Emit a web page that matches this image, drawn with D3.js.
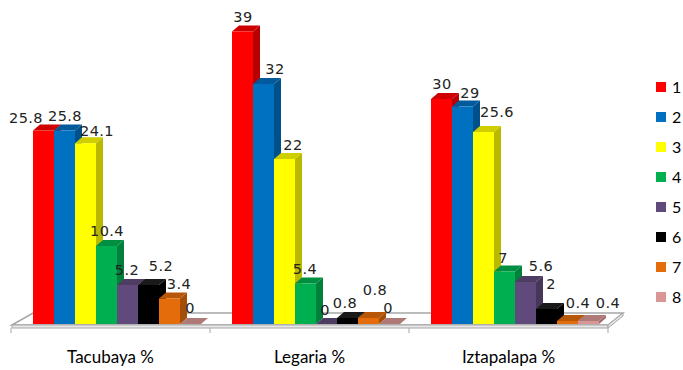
<!DOCTYPE html>
<html>
<head>
<meta charset="utf-8">
<script src="https://cdn.jsdelivr.net/npm/d3@7"></script>
<style>
  html, body { margin: 0; padding: 0; background: #fff; }
  svg { display: block; }
</style>
</head>
<body>
<svg id="chart" width="683" height="370"></svg>
<script>
// Share of responses per option (1–8) at three sites
const categories = ["Tacubaya %", "Legaria %", "Iztapalapa %"];
const seriesNames = ["1", "2", "3", "4", "5", "6", "7", "8"];
const tacubaya   = [25.8, 25.8, 24.1, 10.4, 5.2, 5.2, 3.4, 0];
const legaria    = [39, 32, 22, 5.4, 0, 0.8, 0.8, 0];
const iztapalapa = [30, 29, 25.6, 7, 5.6, 2, 0.4, 0.4];
const seriesColors = ["#FF0000", "#0070C0", "#FFFF00", "#00B050",
                      "#604A7B", "#000000", "#E46C0A", "#D99694"];

const groups = [tacubaya, legaria, iztapalapa];

// Hand-tuned shifts [dx, dy] so neighbouring value labels do not collide
const labelShift = [
  [[-21, 2], [-3, 0], [8, 3], [-3, 0], [-4, 0], [9, -4], [6, 0], [-4, -1]],
  [[-3, 0], [8, 0], [5, 1], [-4, 0], [-5, 1], [-6, 0], [3, -13], [-5, -1]],
  [[-3, 0], [4, 1], [10, -5], [-5, 1], [12, -1], [1, -10], [7, -3], [16, -3]]
];

const svg = d3.select("#chart");

// Pseudo-3D depth of each column
const depthX = 7, depthY = -6;

// Category scale: band edges carry the tick marks
const xCat = d3.scaleBand().domain(categories).range([11, 608]);
const groupOffset = 22;
const xSeries = d3.scaleBand().domain(seriesNames).range([0, 168]);
const y = d3.scaleLinear().domain([0, 40]).range([324, 24]);

// Floor plate
const floor = svg.append("g");
const fl = { lf: 12, lb: 33, rb: 623, rf: 608, yb: 313, yf: 325, th: 3 };
floor.append("path")
  .attr("d", `M${fl.lf},${fl.yf} L${fl.lb},${fl.yb} L${fl.rb},${fl.yb} L${fl.rf},${fl.yf} Z`)
  .attr("fill", "#fff").attr("stroke", "#A6A6A6").attr("stroke-width", 1.5);
floor.append("path")
  .attr("d", `M${fl.lf},${fl.yf} L${fl.rf},${fl.yf} L${fl.rf},${fl.yf + fl.th} L${fl.lf},${fl.yf + fl.th} Z`)
  .attr("fill", "#E8E8E8").attr("stroke", "#A6A6A6").attr("stroke-width", 1);
floor.append("path")
  .attr("d", `M${fl.rf},${fl.yf} L${fl.rb},${fl.yb} L${fl.rb},${fl.yb + fl.th} L${fl.rf},${fl.yf + fl.th} Z`)
  .attr("fill", "#E8E8E8").attr("stroke", "#A6A6A6").attr("stroke-width", 1);

// Tick marks between categories
const edges = categories.map(c => xCat(c)).concat([xCat.range()[1]]);
svg.append("g").selectAll("line").data(edges).join("line")
  .attr("x1", d => d).attr("x2", d => d)
  .attr("y1", fl.yf + fl.th).attr("y2", fl.yf + fl.th + 5)
  .attr("stroke", "#A6A6A6").attr("stroke-width", 1);

// Columns
const bars = svg.append("g");
const valueLabels = [];
groups.forEach((vals, gi) => {
  const gx = xCat(categories[gi]) + groupOffset;
  vals.forEach((v, si) => {
    const x0 = gx + xSeries(seriesNames[si]);
    const w = xSeries.bandwidth();
    const yTop = y(v), yBot = y(0);
    const base = d3.color(seriesColors[si]);
    const topCol = si === 5 ? "#1a1a1a" : base.darker(0.6).formatHex();
    const sideCol = si === 5 ? "#000" : base.darker(0.9).formatHex();
    const g = bars.append("g");
    // right side face
    g.append("path")
      .attr("d", `M${x0 + w},${yTop} L${x0 + w + depthX},${yTop + depthY} L${x0 + w + depthX},${yBot + depthY} L${x0 + w},${yBot} Z`)
      .attr("fill", sideCol);
    // top face
    g.append("path")
      .attr("d", `M${x0},${yTop} L${x0 + depthX},${yTop + depthY} L${x0 + w + depthX},${yTop + depthY} L${x0 + w},${yTop} Z`)
      .attr("fill", topCol);
    // front face
    if (v > 0) {
      g.append("rect")
        .attr("x", x0).attr("y", yTop)
        .attr("width", w).attr("height", yBot - yTop)
        .attr("fill", base.formatHex());
    }
    const sh = labelShift[gi][si];
    valueLabels.push({
      text: String(v),
      x: x0 + w / 2 + depthX / 2 + sh[0],
      y: yTop - 10 + sh[1]
    });
  });
});

// Value labels
svg.append("g").selectAll("text").data(valueLabels).join("text")
  .attr("x", d => d.x).attr("y", d => d.y)
  .attr("text-anchor", "middle")
  .attr("font-family", "DejaVu Sans, Verdana, sans-serif")
  .attr("font-size", 14.5)
  .attr("letter-spacing", 0.4)
  .attr("fill", "#222")
  .text(d => d.text);

// Category labels
const axis = svg.append("g")
  .attr("transform", `translate(0,${fl.yf + fl.th})`)
  .call(d3.axisBottom(xCat).tickSize(0).tickPadding(23));
axis.select(".domain").remove();
axis.selectAll("text")
  .attr("font-family", "Lato, 'Open Sans', sans-serif")
  .attr("font-size", 17)
  .attr("fill", "#000");

// Legend
const legend = svg.append("g").attr("transform", "translate(656,82)");
const rows = legend.selectAll("g").data(seriesNames).join("g")
  .attr("transform", (d, i) => `translate(0,${i * 30})`);
rows.append("rect")
  .attr("width", 10).attr("height", 10)
  .attr("fill", (d, i) => seriesColors[i]);
rows.append("text")
  .attr("x", 16).attr("y", 10.5)
  .attr("font-family", "Lato, 'Open Sans', sans-serif")
  .attr("font-size", 16)
  .attr("fill", "#000")
  .text(d => d);
</script>
</body>
</html>
